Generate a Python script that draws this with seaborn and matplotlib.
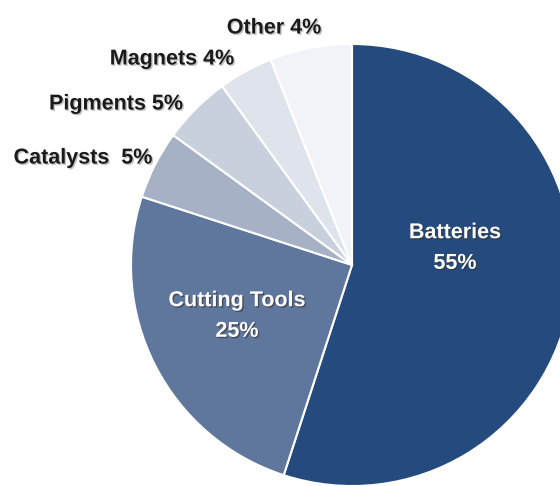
import matplotlib
matplotlib.use("Agg")
import matplotlib.pyplot as plt
import matplotlib.patheffects as pe
import seaborn as sns

categories = ["Batteries", "Cutting Tools", "Catalysts", "Pigments", "Magnets", "Other"]
shares = [55, 25, 5, 5, 4, 6]
label_texts = ["Batteries\n55%", "Cutting Tools\n25%", "Catalysts  5%", "Pigments 5%", "Magnets 4%", "Other 4%"]
colors = ["#254a7d", "#5f769d", "#a6b1c6", "#c9d0dd", "#dfe3eb", "#f1f3f8"]

sns.set_theme(style="white")
plt.rcParams['font.family'] = ['Liberation Sans', 'DejaVu Sans']

fig = plt.figure(figsize=(5.6, 4.86), dpi=100)
ax = fig.add_axes([0, 0, 1, 1])
W, H = 560, 486
cx, cy, r = 352, H - 265, 221

wedges, _ = ax.pie(shares, colors=colors, startangle=90, counterclock=False,
                   center=(cx, cy), radius=r, frame=True,
                   wedgeprops=dict(edgecolor="white", linewidth=1.5))
ax.set_xlim(0, W)
ax.set_ylim(0, H)
ax.set_aspect("equal")
ax.axis("off")

shadow_w = [pe.withSimplePatchShadow(offset=(1, -1), shadow_rgbFace="#333333", alpha=0.6)]
shadow_d = [pe.withSimplePatchShadow(offset=(1, -1), shadow_rgbFace="#888888", alpha=0.5)]

# inner labels
inner_pos = {0: (455, 248), 1: (237, 316)}
for i, (x, y) in inner_pos.items():
    ax.text(x, H - y, label_texts[i], color="white", fontsize=15.5, fontweight="bold",
            ha="center", va="center", linespacing=1.6, path_effects=shadow_w)

# outer labels
outer_pos = {2: (83, 158), 3: (116, 104), 4: (172, 59), 5: (274, 28)}
for i, (x, y) in outer_pos.items():
    ax.text(x, H - y, label_texts[i], color="#1a1a1a", fontsize=15.5, fontweight="bold",
            ha="center", va="center", path_effects=shadow_d)

fig.savefig("out.png", dpi=100)
